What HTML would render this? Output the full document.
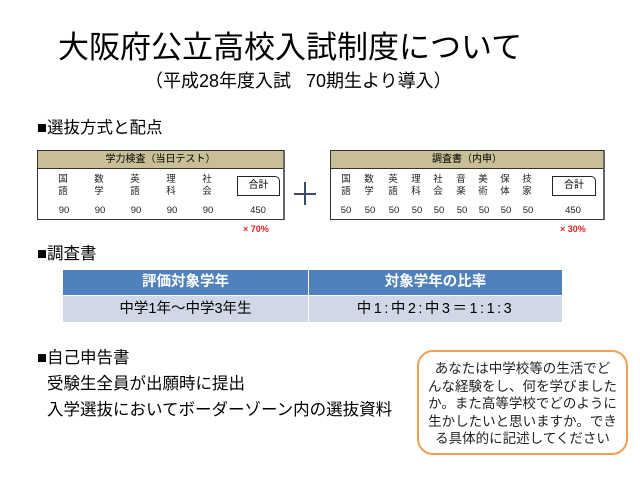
<!DOCTYPE html>
<html><head><meta charset="utf-8"><style>
body{margin:0;width:640px;height:480px;background:#fff;position:relative;overflow:hidden;font-family:"Liberation Sans","Noto Sans CJK JP",sans-serif;color:#000}
.a{position:absolute;white-space:nowrap}
.box{position:absolute;border:1px solid #333;border-right:2px solid #666;background:#fff}
.hd{position:absolute;left:0;right:0;top:0;height:17px;background:#c9bf96;border-bottom:1px solid #333;font-size:10px;text-align:center;line-height:17px}
.c{position:absolute;font-size:9.5px;line-height:12px;width:14px;text-align:center;color:#222}
.n{position:absolute;font-size:9.5px;width:24px;text-align:center;color:#222}
.g{position:absolute;border:1.5px solid #222;border-radius:0 5px 0 0;font-size:10px;text-align:center;line-height:18px;background:#fff}
.red{position:absolute;color:#e02020;font-size:9px;font-weight:bold}
</style></head><body>
<div class="a" style="left:58px;top:30px;font-size:31px;line-height:36px">大阪府公立高校入試制度について</div>
<div class="a" style="left:145px;top:70px;font-size:18px;line-height:22px">（平成28年度入試&nbsp;&nbsp;&nbsp;70期生より導入）</div>
<div class="a" style="left:37px;top:114px;font-size:16.5px">■選抜方式と配点</div>

<div class="box" style="left:37px;top:150px;width:245px;height:68px">
<div class="hd">学力検査（当日テスト）</div>
</div>
<div class="c" style="left:56px;top:174px">国<br>語</div>
<div class="c" style="left:92px;top:174px">数<br>学</div>
<div class="c" style="left:128px;top:174px">英<br>語</div>
<div class="c" style="left:164px;top:174px">理<br>科</div>
<div class="c" style="left:200px;top:174px">社<br>会</div>
<div class="g" style="left:237px;top:176px;width:41px;height:18px">合計</div>
<div class="n" style="left:52px;top:205px">90</div>
<div class="n" style="left:88px;top:205px">90</div>
<div class="n" style="left:124px;top:205px">90</div>
<div class="n" style="left:160px;top:205px">90</div>
<div class="n" style="left:196px;top:205px">90</div>
<div class="n" style="left:246px;top:205px">450</div>
<div class="red" style="left:243px;top:224px">× 70%</div>

<div class="a" style="left:294px;top:193px;width:22px;height:2px;background:#3a4a6a"></div>
<div class="a" style="left:304px;top:182px;width:2px;height:23px;background:#3a4a6a"></div>

<div class="box" style="left:330px;top:150px;width:272px;height:68px">
<div class="hd">調査書（内申）</div>
</div>
<div class="c" style="left:339px;top:174px">国<br>語</div>
<div class="c" style="left:362px;top:174px">数<br>学</div>
<div class="c" style="left:386px;top:174px">英<br>語</div>
<div class="c" style="left:409px;top:174px">理<br>科</div>
<div class="c" style="left:431px;top:174px">社<br>会</div>
<div class="c" style="left:454px;top:174px">音<br>楽</div>
<div class="c" style="left:476px;top:174px">美<br>術</div>
<div class="c" style="left:498px;top:174px">保<br>体</div>
<div class="c" style="left:520px;top:174px">技<br>家</div>
<div class="g" style="left:552px;top:176px;width:42px;height:18px">合計</div>
<div class="n" style="left:334px;top:205px">50</div>
<div class="n" style="left:358px;top:205px">50</div>
<div class="n" style="left:382px;top:205px">50</div>
<div class="n" style="left:405px;top:205px">50</div>
<div class="n" style="left:427px;top:205px">50</div>
<div class="n" style="left:450px;top:205px">50</div>
<div class="n" style="left:472px;top:205px">50</div>
<div class="n" style="left:494px;top:205px">50</div>
<div class="n" style="left:516px;top:205px">50</div>
<div class="n" style="left:561px;top:205px">450</div>
<div class="red" style="left:560px;top:224px">× 30%</div>

<div class="a" style="left:37px;top:240px;font-size:16.5px">■調査書</div>
<div class="a" style="left:63px;top:270px;width:245px;height:25px;background:#4f81bd;color:#fff;font-weight:bold;font-size:14.5px;text-align:center;line-height:25px">評価対象学年</div>
<div class="a" style="left:309px;top:270px;width:253px;height:25px;background:#4f81bd;color:#fff;font-weight:bold;font-size:14.5px;text-align:center;line-height:25px">対象学年の比率</div>
<div class="a" style="left:63px;top:296px;width:245px;height:26px;background:#d0d8e8;font-size:14.5px;text-align:center;line-height:26px">中学1年～中学3年生</div>
<div class="a" style="left:309px;top:296px;width:253px;height:26px;background:#d0d8e8;font-size:14.5px;text-align:center;line-height:26px;letter-spacing:2.5px">中1:中2:中3＝1:1:3</div>

<div class="a" style="left:37px;top:344px;font-size:16.5px">■自己申告書</div>
<div class="a" style="left:47px;top:370px;font-size:16.5px">受験生全員が出願時に提出</div>
<div class="a" style="left:47px;top:396px;font-size:16.5px">入学選抜においてボーダーゾーン内の選抜資料</div>

<div class="a" style="left:417px;top:350px;width:207px;height:93px;border:2px solid #f0a050;border-radius:16px;font-size:13.5px;line-height:17.5px;text-align:center;padding-top:8px;color:#222">あなたは中学校等の生活でど<br>んな経験をし、何を学びました<br>か。また高等学校でどのように<br>生かしたいと思いますか。でき<br>る具体的に記述してください</div>
</body></html>
